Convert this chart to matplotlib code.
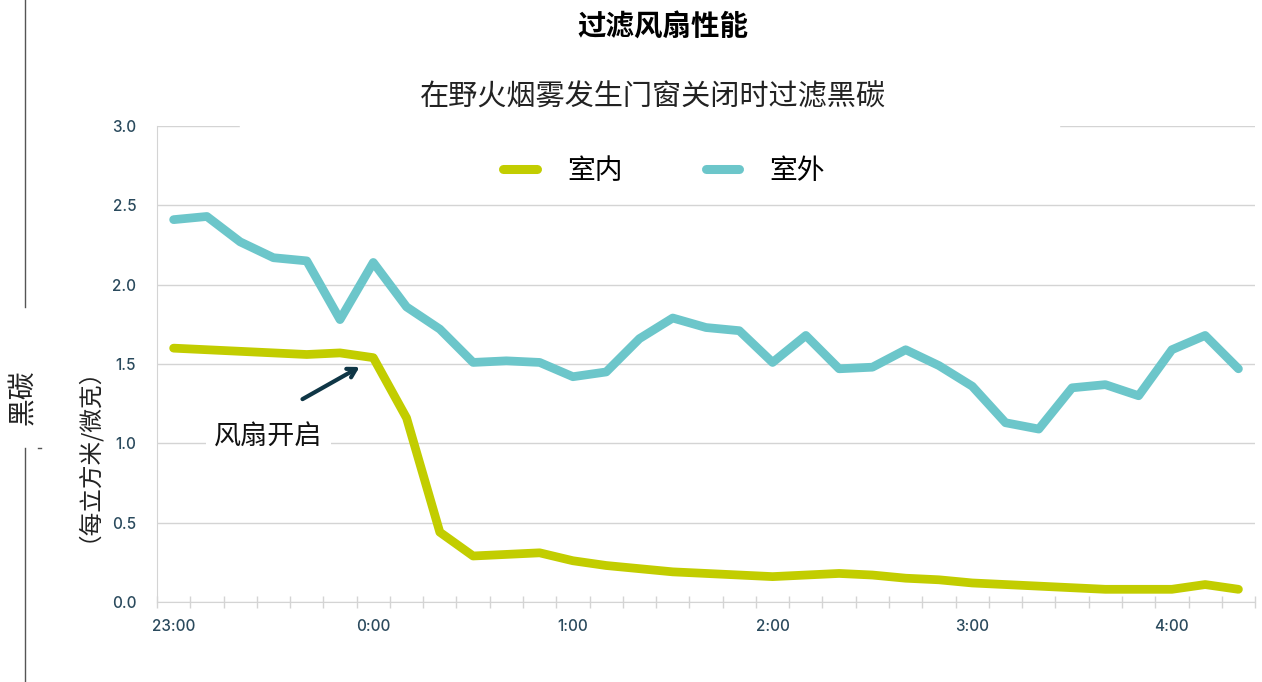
import matplotlib
matplotlib.use("Agg")
import matplotlib.pyplot as plt
from matplotlib.patches import Rectangle
import numpy as np

plt.rcParams['font.family'] = ['Noto Sans CJK SC', 'DejaVu Sans']

# data every 10 minutes from 23:00 to 4:20
times = ["23:00", "23:10", "23:20", "23:30", "23:40", "23:50",
         "0:00", "0:10", "0:20", "0:30", "0:40", "0:50",
         "1:00", "1:10", "1:20", "1:30", "1:40", "1:50",
         "2:00", "2:10", "2:20", "2:30", "2:40", "2:50",
         "3:00", "3:10", "3:20", "3:30", "3:40", "3:50",
         "4:00", "4:10", "4:20"]
indoor = [1.60, 1.59, 1.58, 1.57, 1.56, 1.57, 1.54, 1.16, 0.44, 0.29, 0.30,
          0.31, 0.26, 0.23, 0.21, 0.19, 0.18, 0.17, 0.16, 0.17, 0.18, 0.17,
          0.15, 0.14, 0.12, 0.11, 0.10, 0.09, 0.08, 0.08, 0.08, 0.11, 0.08]
outdoor = [2.41, 2.43, 2.27, 2.17, 2.15, 1.78, 2.14, 1.86, 1.72, 1.51, 1.52,
           1.51, 1.42, 1.45, 1.66, 1.79, 1.73, 1.71, 1.51, 1.68, 1.47, 1.48,
           1.59, 1.49, 1.36, 1.13, 1.09, 1.35, 1.37, 1.30, 1.59, 1.68, 1.47]
y_ticks = [0.0, 0.5, 1.0, 1.5, 2.0, 2.5, 3.0]

c_in = "#c2cd00"
c_out = "#6cc6ca"
c_tick = "#2a4a5d"
c_grid = "#d4d4d4"

fig = plt.figure(figsize=(12.62, 6.82), dpi=100)
ax = fig.add_axes([0.1244, 0.1173, 0.8701, 0.6979])

x = np.arange(len(times))
ax.plot(x, indoor, color=c_in, lw=6.3, solid_capstyle='round',
        solid_joinstyle='round', label="室内", zorder=3)
ax.plot(x, outdoor, color=c_out, lw=6.3, solid_capstyle='round',
        solid_joinstyle='round', label="室外", zorder=3)

ax.set_xlim(-0.5, len(times) - 0.5)
ax.set_ylim(0, 3.0)
ax.set_yticks(y_ticks)
ax.set_yticklabels([f"{v:.1f}" for v in y_ticks], family='Inter',
                   fontsize=11, color=c_tick, fontweight='medium')
ax.set_xticks(x[::6])
ax.set_xticklabels(times[::6], family='Inter', fontsize=11, color=c_tick,
                   fontweight='medium')
ax.set_xticks(np.arange(-0.5, len(times)), minor=True)
ax.tick_params(axis='x', which='major', length=0, pad=12)
ax.tick_params(axis='x', which='minor', direction='inout', length=9,
               color=c_grid, width=1)
ax.tick_params(axis='y', length=0, pad=15)
ax.grid(axis='y', color=c_grid, lw=1)
ax.set_axisbelow(True)
for s in ['top', 'right']:
    ax.spines[s].set_visible(False)
ax.spines['left'].set_color(c_grid)
ax.spines['bottom'].set_color(c_grid)

# white gap over top gridline
ax.add_patch(Rectangle((0.0756, 0.99), 0.746, 0.03, transform=ax.transAxes,
                       color='white', clip_on=False, zorder=2))

leg = ax.legend(loc='upper center', bbox_to_anchor=(0.462, 0.99), ncol=2,
                frameon=False, fontsize=20, handlelength=1.2,
                columnspacing=3.0, handletextpad=1.1)
for h in leg.get_lines():
    h.set_linewidth(6.5)
    h.set_solid_capstyle('round')

# fan on annotation
ax.annotate("", xy=(5.66, 1.49), xytext=(3.8, 1.27),
            arrowprops=dict(arrowstyle='->,head_length=0.6,head_width=0.35',
                            color="#0f3646", lw=3))
ax.text(2.85, 1.04, "风扇开启", fontsize=19.5, ha='center', va='center',
        color='#111111',
        bbox=dict(facecolor='white', edgecolor='none', pad=6), zorder=4)

fig.text(0.525, 0.96, "过滤风扇性能", fontsize=20.5, fontweight='bold',
         ha='center', va='center', color='black')
fig.text(0.517, 0.857, "在野火烟雾发生门窗关闭时过滤黑碳", fontsize=21,
         ha='center', va='center', color='#222222')

# y axis label with side line
fig.add_artist(plt.Line2D([0.0198, 0.0198], [0.55, 1.0], color='#555555', lw=1))
fig.add_artist(plt.Line2D([0.0198, 0.0198], [0, 0.343], color='#555555', lw=1))
fig.add_artist(plt.Line2D([0.0305, 0.0325], [0.343, 0.343], color='#555555', lw=1))
fig.text(0.018, 0.418, "黑碳", rotation=90, fontsize=20, ha='center',
         va='center', color='#222222')
fig.text(0.06, 0.35, "（每立方米/微克）", rotation=90, fontsize=17,
         ha='center', va='center', color='#222222')

fig.savefig("out.png", dpi=100)
